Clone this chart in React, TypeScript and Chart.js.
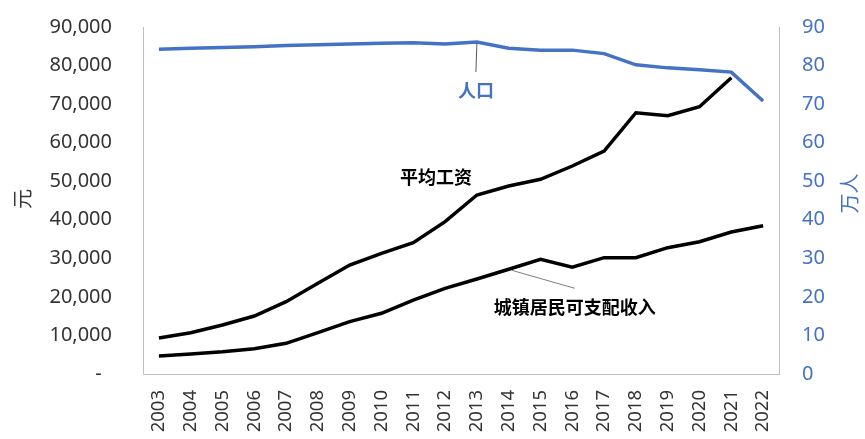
import { useEffect, useRef } from 'react';
import { Chart, registerables } from 'chart.js';

Chart.register(...registerables);

// Years on the category axis
const YEARS = [
  '2003', '2004', '2005', '2006', '2007', '2008', '2009', '2010', '2011', '2012',
  '2013', '2014', '2015', '2016', '2017', '2018', '2019', '2020', '2021', '2022',
];

// 平均工资 (元), no value for 2022
const AVG_WAGE = [
  9340, 10710, 12710, 15040, 18750, 23530, 28270, 31310, 34060, 39500,
  46430, 48760, 50500, 53950, 57840, 67770, 67000, 69330, 76850, null,
];

// 城镇居民可支配收入 (元)
const URBAN_INCOME = [
  4670, 5190, 5780, 6560, 7960, 10710, 13570, 15740, 19190, 22230,
  24640, 27160, 29750, 27680, 30170, 30170, 32760, 34320, 36830, 38470,
];

// 人口 (万人)
const POPULATION = [
  84.2, 84.5, 84.7, 84.9, 85.2, 85.4, 85.6, 85.8, 85.9, 85.6,
  86.1, 84.5, 84.0, 84.0, 83.1, 80.2, 79.4, 78.9, 78.3, 70.8,
];

const LEFT_MAX = 90000;
const LEFT_STEP = 10000;
const RIGHT_MAX = 90;
const RIGHT_STEP = 10;

const BLUE = '#4472C4';
const TEXT = '#333333';
const FRAME = '#bfbfbf';
const LATIN = '"Noto Sans", "Open Sans", sans-serif';
const CJK = '"Noto Sans CJK SC", "Noto Sans", sans-serif';

const overlay = {
  id: 'overlay',
  beforeDatasetsDraw(chart: any) {
    const { ctx, chartArea: a } = chart;
    ctx.save();
    ctx.strokeStyle = FRAME;
    ctx.lineWidth = 1;
    ctx.beginPath();
    ctx.moveTo(Math.round(a.left) + 0.5, a.top);
    ctx.lineTo(Math.round(a.left) + 0.5, Math.round(a.bottom) + 0.5);
    ctx.lineTo(Math.round(a.right) + 0.5, Math.round(a.bottom) + 0.5);
    ctx.lineTo(Math.round(a.right) + 0.5, a.top);
    ctx.stroke();
    ctx.restore();
  },
  afterDatasetsDraw(chart: any) {
    const { ctx, chartArea: a, scales } = chart;
    const x = scales.x;
    const yL = scales.y;
    const yR = scales.y1;
    const mid = (a.top + a.bottom) / 2;
    ctx.save();

    // axis titles
    ctx.textAlign = 'center';
    ctx.textBaseline = 'middle';
    ctx.font = `20px ${CJK}`;
    ctx.fillStyle = TEXT;
    ctx.save();
    ctx.translate(22, mid - 1.5);
    ctx.rotate(-Math.PI / 2);
    ctx.fillText('元', 0, 0);
    ctx.restore();
    ctx.fillStyle = BLUE;
    ctx.save();
    ctx.translate(849, mid - 7);
    ctx.rotate(-Math.PI / 2);
    ctx.fillText('万人', 0, 0);
    ctx.restore();

    // leader lines
    ctx.strokeStyle = '#595959';
    ctx.lineWidth = 1;
    const pi = 10; // 2013
    const px = x.getPixelForValue(pi);
    const py = yR.getPixelForValue(POPULATION[pi]);
    ctx.beginPath();
    ctx.moveTo(px, py + 1);
    ctx.lineTo(px - 1, py + 30);
    ctx.stroke();

    const ii = 11; // 2014
    const ix = x.getPixelForValue(ii);
    const iy = yL.getPixelForValue(URBAN_INCOME[ii]);
    ctx.strokeStyle = '#7f7f7f';
    ctx.beginPath();
    ctx.moveTo(ix + 3, iy + 1);
    ctx.lineTo(ix + 66, iy + 19);
    ctx.stroke();

    // series labels
    ctx.font = `bold 18px ${CJK}`;
    ctx.fillStyle = BLUE;
    ctx.fillText('人口', px - 1, py + 48);

    ctx.fillStyle = '#000';
    const wi = 9; // 2012
    const wx = x.getPixelForValue(wi);
    const wy = yL.getPixelForValue(AVG_WAGE[wi] as number);
    ctx.fillText('平均工资', wx - 9, wy - 45);

    ctx.fillText('城镇居民可支配收入', ix + 66, iy + 38);

    ctx.restore();
  },
};

export default function App() {
  const ref = useRef<HTMLCanvasElement | null>(null);

  useEffect(() => {
    if (!ref.current) return;
    const chart = new Chart(ref.current, {
      type: 'line',
      data: {
        labels: YEARS,
        datasets: [
          {
            label: '平均工资',
            data: AVG_WAGE,
            yAxisID: 'y',
            borderColor: '#000',
            borderWidth: 3.5,
            pointRadius: 0,
            tension: 0,
            spanGaps: false,
          },
          {
            label: '城镇居民可支配收入',
            data: URBAN_INCOME,
            yAxisID: 'y',
            borderColor: '#000',
            borderWidth: 3.5,
            pointRadius: 0,
            tension: 0,
          },
          {
            label: '人口',
            data: POPULATION,
            yAxisID: 'y1',
            borderColor: BLUE,
            borderWidth: 3.5,
            pointRadius: 0,
            tension: 0,
          },
        ],
      },
      options: {
        responsive: false,
        animation: false,
        layout: { padding: { top: 27, left: 0, right: 0, bottom: 0 } },
        plugins: {
          legend: { display: false },
          tooltip: { enabled: false },
        },
        scales: {
          x: {
            offset: true,
            grid: { display: false, drawTicks: true, tickLength: 16 },
            border: { display: false },
            ticks: {
              color: TEXT,
              font: { family: LATIN, size: 18.5 },
              minRotation: 90,
              maxRotation: 90,
              padding: 0,
              autoSkip: false,
            },
            afterFit(scale: any) {
              scale.height = 65;
            },
          },
          y: {
            position: 'left',
            min: 0,
            max: LEFT_MAX,
            grid: { display: false, drawTicks: true, tickLength: 31 },
            border: { display: false },
            ticks: {
              stepSize: LEFT_STEP,
              color: TEXT,
              font: { family: LATIN, size: 20 },
              padding: 0,
              callback: (v: any) => (v === 0 ? '-  ' : Number(v).toLocaleString('en-US')),
            },
            afterFit(scale: any) {
              scale.width = 143;
            },
          },
          y1: {
            position: 'right',
            min: 0,
            max: RIGHT_MAX,
            grid: { display: false, drawTicks: true, tickLength: 23 },
            border: { display: false },
            ticks: {
              stepSize: RIGHT_STEP,
              color: BLUE,
              font: { family: LATIN, size: 20 },
              padding: 0,
            },
            afterFit(scale: any) {
              scale.width = 86;
            },
          },
        },
      },
      plugins: [overlay],
    });
    return () => chart.destroy();
  }, []);

  return (
    <div style={{ position: 'fixed', left: 0, top: 0, width: 865, height: 439, background: '#fff' }}>
      <canvas ref={ref} width={865} height={439} />
    </div>
  );
}
